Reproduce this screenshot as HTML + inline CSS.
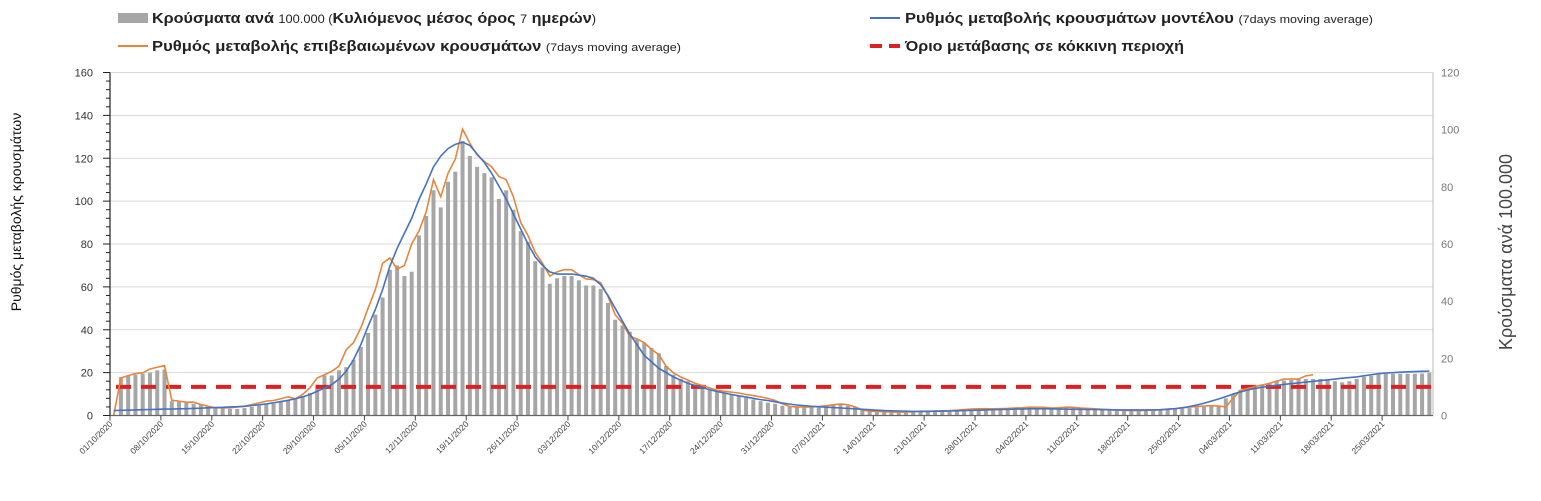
<!DOCTYPE html>
<html><head><meta charset="utf-8"><style>
body{margin:0;background:#fff;width:1541px;height:496px;overflow:hidden;font-family:"Liberation Sans",sans-serif}
</style></head><body>
<svg id="chart" width="1541" height="496" xmlns="http://www.w3.org/2000/svg" font-family="Liberation Sans, sans-serif">
<g>
 <g>
  <rect x="118" y="13" width="30" height="10" fill="#a6a6a6"/>
  <text x="152" y="23" font-size="14.5" font-weight="bold" fill="#222" textLength="444" lengthAdjust="spacingAndGlyphs">Κρούσματα ανά <tspan font-weight="normal" font-size="11.5">100.000 (</tspan>Κυλιόμενος μέσος όρος <tspan font-weight="normal" font-size="11.5">7</tspan> ημερών<tspan font-weight="normal" font-size="11.5">)</tspan></text>
 </g>
 <g>
  <line x1="870" y1="18" x2="900" y2="18" stroke="#4472c4" stroke-width="2"/>
  <text x="905" y="23" font-size="14.5" font-weight="bold" fill="#222" textLength="468" lengthAdjust="spacingAndGlyphs">Ρυθμός μεταβολής κρουσμάτων μοντέλου <tspan font-weight="normal" font-size="11">(7days moving average)</tspan></text>
 </g>
 <g>
  <line x1="118" y1="46" x2="148" y2="46" stroke="#e8853a" stroke-width="2"/>
  <text x="152" y="51" font-size="14.5" font-weight="bold" fill="#222" textLength="529" lengthAdjust="spacingAndGlyphs">Ρυθμός μεταβολής επιβεβαιωμένων κρουσμάτων <tspan font-weight="normal" font-size="11">(7days moving average)</tspan></text>
 </g>
 <g>
  <line x1="870" y1="46" x2="900" y2="46" stroke="#e0201f" stroke-width="4" stroke-dasharray="12,7"/>
  <text x="905" y="51" font-size="14.5" font-weight="bold" fill="#222" textLength="279" lengthAdjust="spacingAndGlyphs">Όριο μετάβασης σε κόκκινη περιοχή</text>
 </g>
</g>
<text transform="translate(21,212) rotate(-90)" text-anchor="middle" font-size="14" fill="#111">Ρυθμός μεταβολής κρουσμάτων</text>
<text transform="translate(1512,252) rotate(-90)" text-anchor="middle" font-size="18" fill="#444">Κρούσματα ανά 100.000</text>
<g id="grid"></g><g id="bars"></g><g id="lines"></g><g id="axes"></g>
</svg>
<script>
const NS='http://www.w3.org/2000/svg';
const startDate=[2020,10,1];
const leftTicks=[0,20,40,60,80,100,120,140,160];
const rightTicks=[0,20,40,60,80,100,120];
const thresholdPer100k=10;
const casesPer100k=[0,13.5,13.9,14.3,14.6,15,15.8,16.1,
5,4.9,4.5,4.1,3.8,3.4,3,2.6,2.3,2.3,
2.6,3,3.4,3.8,4.1,4.9,5.3,6,6.8,7.9,
10.8,14,14,15.8,16.9,19.5,24,28.9,35.3,41.3,51,52.5,48.8,50.3,63,69.8,78.8,
72.8,81.8,85.3,96,90.8,87,84.8,83.3,75.8,78.8,72,64.5,60.8,54,51.8,46.1,48,48.8,48.8,47.3,45.5,45.5,44.3,39.4,33.5,31.5,29.3,26.6,25.5,23.6,21.8,17.3,14.3,12.8,12,10.8,10.3,9,8.5,7.9,7.4,6.8,6.2,5.6,5,
4.5,4.1,3.4,3,3,3,3.2,3.2,3.4,3.6,3.8,3.4,2.9,1.9,1.5,1.4,1.2,1.1,1.1,1.1,1.2,1.4,1.5,1.5,1.7,1.7,1.9,2,2.1,2.3,2.3,2.3,2.4,2.4,2.6,2.6,2.6,2.9,2.9,2.6,2.6,2.6,2.7,2.6,2.4,2.3,
2.3,2.1,2,1.9,1.8,1.8,1.7,1.8,1.9,2,2.3,2.4,2.6,2.9,3,3.2,
3.4,6,7.5,9,9.9,10.5,10.9,11.3,12,12.2,12.4,12.8,12.8,12.8,12.8,12.8,12,11.6,12,12.8,13.5,13.9,14.3,14.6,14.6,14.6,14.6,14.6,14.7,15];
const confirmedRate=[0,17.5,18.6,19.6,19.9,21.7,22.5,23.3,
7.1,6.7,6.2,6.2,5.1,4.3,3.6,3.6,3.6,4,
4.3,5.1,5.9,6.7,7,7.8,8.7,7.8,9.8,12.9,
17.5,19,20.6,23,30.7,34,40.8,50,58.7,71,73.5,68.3,70,80,86,95,
110,102,113,119.6,133.6,127,121.6,118.5,116,111.5,110,102,90,84,76,71,65,67,68,68,65.7,63.7,63.4,62,55.6,47,43,37,35.7,34,30.8,28.4,23,19.9,18,16.5,15,14,12.9,11.8,11.3,10.9,10.5,9.8,9.3,8.7,
8,7,5.5,4.2,4,4,4,4.2,4.5,5,5.4,5,4,2.5,2,1.9,1.8,1.6,1.6,1.6,1.8,2,2,2.1,2.2,2.3,2.5,2.8,3,3.1,3.2,3.1,3.2,3.3,3.5,3.6,3.9,3.8,3.8,3.5,3.6,3.9,3.8,3.5,3.3,3.1,
2.9,2.7,2.5,2.4,2.3,2.3,2.4,2.5,2.7,3,3.2,3.6,3.9,4.2,4.4,4.6,4.4,4,8,11.7,12.6,13.5,14.2,15,16,17,17,17,18.5,19];
const modelRate=[2.3,2.4,2.5,2.6,2.7,2.8,2.9,3,3,3.1,3.2,3.3,3.4,3.6,3.7,3.8,4,4.1,4.3,4.6,5,5.4,5.9,6.5,7.1,7.8,8.7,9.8,11.3,12.8,14.4,17,20.7,
26,33,41.6,49.4,58.7,69.6,78,85,92,100.7,108,116,121,124.5,126.5,127.5,
126,122,118,113,107,101,94,87,80,74,70,67,66,66,66,65.5,65,64,61,56,50,44,38,33,28,25,22,20,18,16.5,15,14,13,12,11.2,10.5,9.8,9.2,8.6,8,7.4,
7,6.4,5.8,5.3,4.9,4.6,4.3,4.1,3.9,3.7,3.5,3.3,3.1,2.9,2.7,2.5,2.3,2.2,2.1,2,1.9,1.9,1.9,2,2,2.1,2.2,2.3,2.4,2.5,2.6,2.7,2.8,2.9,3,3,3.1,3.1,3.1,3.1,3,3,2.9,2.9,2.8,2.8,
2.7,2.7,2.6,2.6,2.6,2.6,2.6,2.6,2.7,2.9,3.2,3.6,4.2,4.9,5.7,6.7,7.7,8.8,10,11,11.9,12.6,13.2,13.7,14.1,14.5,14.9,15.2,15.6,15.9,16.3,16.6,17,17.4,17.7,18,18.5,19,19.5,19.8,20,20.2,20.4,20.5,20.6,20.7];

const X0=110,X1=1433,Y0=415.5,YT=72.5;
const N=casesPer100k.length, band=(X1-X0)/N;
const xBand=i=>X0+i*band, xMid=i=>X0+(i+0.5)*band;
const yL=v=>Y0-(v/160)*(Y0-YT), yR=v=>Y0-(v/120)*(Y0-YT);
function mk(t,a,p){const e=document.createElementNS(NS,t);for(const k in a)e.setAttribute(k,a[k]);p.appendChild(e);return e;}
const grid=document.getElementById('grid'),bars=document.getElementById('bars'),lines=document.getElementById('lines'),axes=document.getElementById('axes');
leftTicks.forEach(v=>{
 const g=mk('line',{x1:X0,x2:X1,y1:yL(v),y2:yL(v),stroke:'#d9d9d9','stroke-width':1},grid);
 
 
 const t=mk('text',{x:93,y:yL(v)+4,'text-anchor':'end','font-size':11,fill:'#333'},axes);t.textContent=v;
 
 
});
for(let v=0;v<=160;v+=4){mk('line',{x1:X0-(v%20?4:7),x2:X0,y1:yL(v),y2:yL(v),stroke:'#222','stroke-width':1},axes);}
rightTicks.forEach(v=>{
 const t=mk('text',{x:1441,y:yR(v)+4,'font-size':11,fill:'#777'},axes);t.textContent=v;
 
 
});
casesPer100k.forEach((v,i)=>{
 if(v<=0)return;
 const r=mk('rect',{x:xMid(i)-2,y:yR(v),width:4,height:Y0-yR(v),fill:'#a6a6a6'},bars);
 
 
});
const th=mk('line',{x1:X0+6,x2:X1,y1:yR(thresholdPer100k),y2:yR(thresholdPer100k),stroke:'#e0201f','stroke-width':4,'stroke-dasharray':'15,10'},lines);


const pc=mk('polyline',{points:confirmedRate.map((v,i)=>xMid(i)+','+yL(v)).join(' '),fill:'none',stroke:'#e8853a','stroke-width':1.6},lines);


const pm=mk('polyline',{points:modelRate.map((v,i)=>xMid(i)+','+yL(v)).join(' '),fill:'none',stroke:'#4472c4','stroke-width':1.6},lines);


mk('line',{x1:X0,x2:X0,y1:YT,y2:Y0,stroke:'#222','stroke-width':1.2},axes);
mk('line',{x1:X1,x2:X1,y1:YT,y2:Y0,stroke:'#bbb','stroke-width':1},axes);
mk('line',{x1:X0,x2:X1,y1:Y0,y2:Y0,stroke:'#666','stroke-width':1.2},axes);
const pad=n=>String(n).padStart(2,'0');
for(let i=0;i<N;i+=7){
 const d=new Date(startDate[0],startDate[1]-1,startDate[2]+i);
 const x=xBand(i);
 mk('line',{x1:x,x2:x,y1:Y0,y2:Y0+5,stroke:'#444','stroke-width':1},axes);
 const t=mk('text',{transform:`translate(${x+3},${Y0+9}) rotate(-45)`,'text-anchor':'end','font-size':8.5,fill:'#444'},axes);
 t.textContent=pad(d.getDate())+'/'+pad(d.getMonth()+1)+'/'+d.getFullYear();
 
 
}
</script>
</body></html>
